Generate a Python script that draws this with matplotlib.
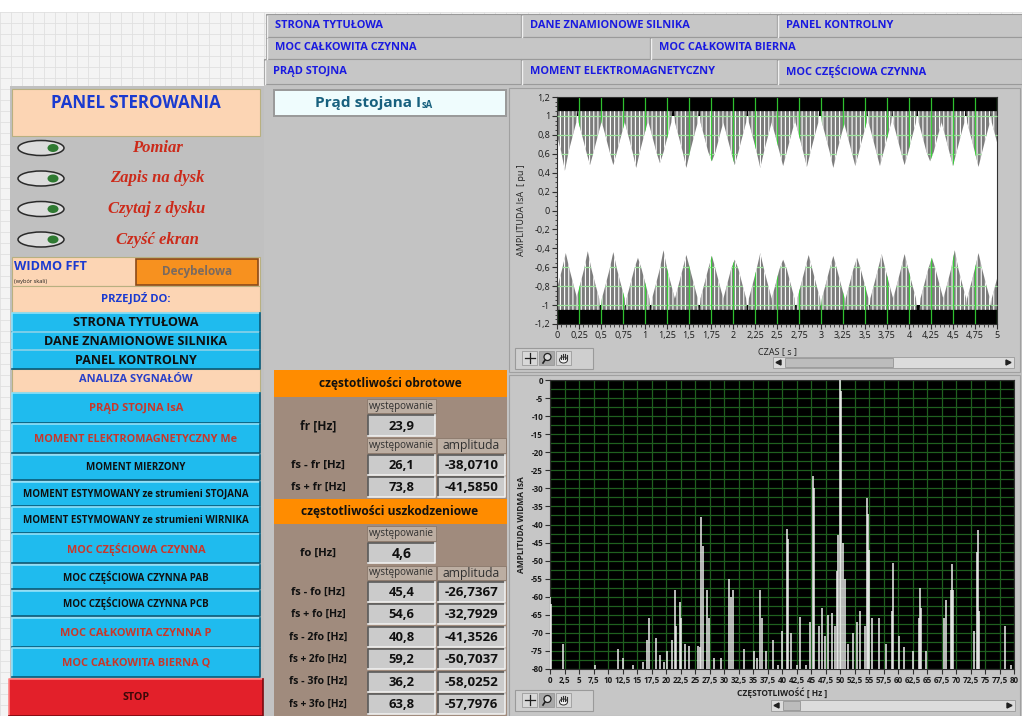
import matplotlib
matplotlib.use('Agg')
import matplotlib.pyplot as plt
from matplotlib.patches import Rectangle, Ellipse, Polygon, PathPatch
from matplotlib.path import Path
from matplotlib.collections import LineCollection
from matplotlib.ticker import MultipleLocator, FuncFormatter

plt.rcParams['font.family'] = ['Open Sans', 'DejaVu Sans']
plt.rcParams['hatch.linewidth'] = 0.8

# ---- dane ----
tabs_row1 = ['STRONA TYTUŁOWA', 'DANE ZNAMIONOWE SILNIKA', 'PANEL KONTROLNY']
tabs_row2 = ['MOC CAŁKOWITA CZYNNA', 'MOC CAŁKOWITA BIERNA']
tabs_row3 = ['PRĄD STOJNA', 'MOMENT ELEKTROMAGNETYCZNY', 'MOC CZĘŚCIOWA CZYNNA']

toggles = ['Pomiar', 'Zapis na dysk', 'Czytaj z dysku', 'Czyść ekran']
nav_buttons = ['STRONA TYTUŁOWA', 'DANE ZNAMIONOWE SILNIKA', 'PANEL KONTROLNY']
signal_buttons = ['PRĄD STOJNA IsA', 'MOMENT ELEKTROMAGNETYCZNY Me', 'MOMENT MIERZONY',
                  'MOMENT ESTYMOWANY ze strumieni STOJANA', 'MOMENT ESTYMOWANY ze strumieni WIRNIKA',
                  'MOC CZĘŚCIOWA CZYNNA', 'MOC CZĘŚCIOWA CZYNNA PAB', 'MOC CZĘŚCIOWA CZYNNA PCB',
                  'MOC CAŁKOWITA CZYNNA P', 'MOC CAŁKOWITA BIERNA Q']
signal_main = [True, True, False, False, False, True, False, False, True, True]

fr = 23.9
rot_labels = ['fs - fr [Hz]', 'fs + fr [Hz]']
rot_freq = [26.1, 73.8]
rot_amp = [-38.0710, -41.5850]
fo = 4.6
fault_labels = ['fs - fo [Hz]', 'fs + fo [Hz]', 'fs - 2fo [Hz]', 'fs + 2fo [Hz]', 'fs - 3fo [Hz]', 'fs + 3fo [Hz]']
fault_freq = [45.4, 54.6, 40.8, 59.2, 36.2, 63.8]
fault_amp = [-26.7367, -32.7929, -41.3526, -50.7037, -58.0252, -57.7976]

# prad stojana - obwiednia (dolki gornej i wierzcholki dolnej modulacji)
env_hi, env_lo = 1.0, -1.0
top_dip_t = [0.09, 0.375, 0.64, 0.9, 1.17, 1.47, 1.76, 2.02, 2.31, 2.57, 2.84, 3.14, 3.39, 3.67, 3.95, 4.24, 4.5, 4.79, 5.07]
top_dip_v = [0.42, 0.48, 0.48, 0.45, 0.50, 0.45, 0.52, 0.48, 0.45, 0.47, 0.46, 0.45, 0.47, 0.47, 0.48, 0.52, 0.47, 0.46, 0.47]
bot_tip_t = [0.1, 0.35, 0.64, 0.92, 1.21, 1.47, 1.76, 2.02, 2.31, 2.57, 2.86, 3.14, 3.41, 3.69, 3.95, 4.26, 4.52, 4.79, 5.07]
bot_tip_v = [-0.45, -0.43, -0.44, -0.50, -0.42, -0.47, -0.48, -0.52, -0.45, -0.52, -0.47, -0.48, -0.50, -0.46, -0.46, -0.50, -0.42, -0.45, -0.47]

# widmo FFT [Hz], [dB]
spec_f = [0.0, 0.2, 2.3, 7.7, 11.7, 12.6, 14.3, 16.0, 16.8, 17.0, 18.2, 18.9, 19.6, 20.2, 21.0, 21.5, 21.8,
          22.4, 22.6, 23.2, 24.0, 25.5, 25.8, 26.1, 26.4, 27.0, 27.4, 28.2, 29.5, 30.8, 31.2, 31.5,
          33.4, 35.2, 35.7, 36.2, 36.5, 37.2, 38.5, 39.3, 40.0, 40.8, 41.0, 41.6, 42.5, 43.1, 44.2, 44.8,
          45.4, 45.6, 46.3, 46.9, 47.4, 48.0, 48.6, 49.1, 49.4, 49.7, 50.0, 50.2, 50.6, 50.9, 51.4,
          52.2, 52.9, 53.4, 54.3, 54.6, 54.8, 55.0, 55.6, 56.8, 58.0, 59.0, 59.2, 60.1, 61.0, 62.6,
          63.6, 63.8, 64.0, 64.8, 68.0, 68.2, 69.1, 69.3, 69.5, 73.1, 73.6, 73.8, 74.0, 78.5, 79.5]
spec_db = [-60, -62, -73, -79, -74.5, -77, -79, -78, -72, -66, -71.5, -76, -78, -75, -72, -58, -68,
           -61.5, -66, -73, -73.5, -73.5, -74, -38, -46, -58, -66, -77, -77, -55, -60, -58,
           -74.5, -75, -77, -58, -66, -75, -72, -79, -69.5, -41.3, -44, -70, -79, -65.5, -79, -67,
           -26.7, -30, -68, -63, -71, -65, -64.5, -68, -53, -43, 0, -3, -45, -55, -73,
           -70, -67, -64, -68, -32.8, -37, -47, -66, -66, -73, -64, -50.7, -71, -74, -75,
           -66, -57.5, -63, -75, -66, -61, -58, -51, -58, -69.5, -47.5, -41.6, -64, -68, -79]

fig = plt.figure(figsize=(10.22, 7.16), dpi=100)
bg = fig.add_axes([0, 0, 1, 1])
bg.set_xlim(0, 1022)
bg.set_ylim(716, 0)
bg.axis('off')
R = fig.canvas.get_renderer()


def box(x0, y0, x1, y1, fc, ec='none', lw=0.8, z=1, **kw):
    p = Rectangle((x0, y0), x1 - x0, y1 - y0, facecolor=fc, edgecolor=ec, linewidth=lw, zorder=z, **kw)
    bg.add_patch(p)
    return p


def label(x, y, s, w=None, ha='center', size=8, **kw):
    t = bg.text(x, y, s, ha=ha, va='center', fontsize=size, zorder=6, **kw)
    if w:
        ext = t.get_window_extent(renderer=R)
        t.set_fontsize(size * w / ext.width)
    return t


def bevel(x0, y0, x1, y1, fc, light, dark):
    box(x0, y0, x1, y1, fc, z=2)
    bg.plot([x0, x0, x1], [y1, y0, y0], color=light, lw=1.2, zorder=3)
    bg.plot([x0, x1, x1], [y1, y1, y0], color=dark, lw=1.2, zorder=3)


def comma(v, dec):
    return f'{v:.{dec}f}'.replace('.', ',')


# ---- tlo ----
box(0, 0, 1022, 716, '#f4f4f4', z=0)
for gx in range(0, 1022, 11):
    bg.plot([gx, gx], [12, 716], color='#e0e0e0', lw=0.6, zorder=0.1)
for gy in range(12, 716, 11):
    bg.plot([0, 1022], [gy, gy], color='#e0e0e0', lw=0.6, zorder=0.1)
box(0, 0, 1022, 12, 'white', z=0.2)
box(264, 84, 1022, 716, '#c3c3c3', z=0.5)
box(10, 86, 264, 716, '#c0c0c0', z=0.5)

# ---- zakladki ----
tab_sz = None
rows = [(14, 37, [(266, 521), (521, 777), (777, 1022)], tabs_row1),
        (37, 59, [(266, 650), (650, 1022)], tabs_row2),
        (59, 84, [(264, 521), (521, 777), (777, 1022)], tabs_row3)]
for y0, y1, spans, names in rows:
    for (x0, x1), name in zip(spans, names):
        box(x0, y0, x1, y1, '#c6c6c6', ec='#9a9a9a', lw=0.8, z=1)
        bg.plot([x0 + 1, x0 + 1], [y0 + 2, y1], color='#f0f0f0', lw=1, zorder=1.5)
        t = label(x0 + 9, (y0 + y1) / 2, name, w=108 if tab_sz is None else None,
                  ha='left', color='#1a1ae0', fontweight='bold', size=tab_sz or 8)
        if tab_sz is None:
            tab_sz = t.get_fontsize()

# ---- panel sterowania ----
box(12, 89, 260, 136, '#fcd5b4', ec='#b8b080', lw=0.8, z=1)
label(136, 103, 'PANEL STEROWANIA', w=170, color='#1a3ad0', fontweight='bold')
serif = ['Liberation Serif', 'DejaVu Serif']
probe = label(0, 0, toggles[1], w=94, size=11, fontweight='bold', fontstyle='italic', family=serif)
tg_sz = probe.get_fontsize()
probe.remove()
for i, name in enumerate(toggles):
    y = 148 + i * 30.5
    bg.add_patch(Ellipse((41, y), 46, 15, facecolor='#dcdcdc', edgecolor='#2a2a2a', lw=1.1, zorder=3))
    bg.add_patch(Ellipse((53, y), 11, 8, facecolor='#2f7a32', edgecolor='none', zorder=4))
    label(157, y, name, size=tg_sz, color='#cc2a1a', fontweight='bold', fontstyle='italic', family=serif)

box(12, 257, 260, 286, '#fcd5b4', ec='#b8b080', lw=0.8, z=1)
label(14, 266, 'WIDMO FFT', w=73, ha='left', color='#1a3ad0', fontweight='bold')
label(14, 281, '(wybór skali)', w=33, ha='left', color='#202020')
box(136, 259, 258, 285, '#f7911f', ec='#8a4a18', lw=1.2, z=2)
label(197, 272, 'Decybelowa', w=71, color='#7a6a60', fontweight='bold')

box(12, 286, 260, 312, '#fcd5b4', ec='#b8b080', lw=0.8, z=1)
label(136, 299, 'PRZEJDŹ DO:', w=70, color='#1a3ad0', fontweight='bold')

nav_y = [(313, 332), (332, 350), (350, 369)]
nav_w = [125, 184, 122]
for (y0, y1), name, w in zip(nav_y, nav_buttons, nav_w):
    bevel(12, y0, 260, y1, '#1fbbee', '#8fe2fb', '#0a5a78')
    label(136, (y0 + y1) / 2 + 0.5, name, w=w, color='#101010', fontweight='bold')

box(12, 369, 260, 392, '#fcd5b4', ec='#b8b080', lw=0.8, z=1)
label(136, 379, 'ANALIZA SYGNAŁÓW', w=113, color='#2a40c8', fontweight='bold')

sig_y = [(393, 423), (424, 453), (455, 480), (482, 506), (507, 533), (534, 563),
         (565, 589), (591, 616), (618, 647), (648, 677)]
sig_w = [95, 202, 99, 226, 226, 139, 146, 146, 152, 148]
for (y0, y1), name, main, w in zip(sig_y, signal_buttons, signal_main, sig_w):
    bevel(12, y0, 260, y1, '#1fbbee', '#8fe2fb', '#0a5a78')
    label(136, (y0 + y1) / 2 + 0.5, name, w=w, color='#c8372a' if main else '#101010', fontweight='bold')

bevel(9, 679, 263, 716, '#e3202a', '#ff8080', '#7a0a10')
label(136, 698, 'STOP', w=27, color='#3a0808', fontweight='bold')

# ---- tytul i tabela ----
box(273, 89, 507, 117, '#9a9a9a', z=1)
box(275, 91, 505, 115, '#effcfd', z=1.5)
t1 = label(368, 103, 'Prąd stojana I', w=106, color='#17607e', fontweight='bold')
ext = t1.get_window_extent(renderer=R)
label(ext.x1 + 1, 105, 'sA', ha='left', size=t1.get_fontsize() * 0.62, color='#17607e', fontweight='bold')

TX0, TX1 = 274, 507
C2, C3 = (367, 436), (437, 506)
LX = 318
box(TX0, 370, TX1, 716, '#a08b7d', z=1)
box(TX0, 370, TX1, 397, '#ff8c00', z=1.5)
label(390, 383, 'częstotliwości obrotowe', w=143, color='#101010', fontweight='bold')


def hdr(y0, y1, cols):
    for (x0, x1), s, w in cols:
        box(x0, y0, x1, y1, '#bcaea2', ec='#8a786a', lw=0.6, z=2)
        label((x0 + x1) / 2, (y0 + y1) / 2, s, w=w, color='#303030')


def cell(x0, x1, y0, y1, s, w):
    bevel(x0 + 1, y0, x1 - 1, y1, '#cbcbcb', '#5a5a5a', '#f0f0f0')
    label((x0 + x1) / 2, (y0 + y1) / 2 + 0.5, s, w=w, color='#101010', fontweight='bold')


def row_label(y, s, w):
    label(LX, y, s, w=w, color='#101010', fontweight='bold')


hdr(399, 413, [(C2, 'występowanie', 65)])
row_label(426, 'fr [Hz]', 36)
cell(*C2, 415, 436, comma(fr, 1), 26)
hdr(438, 453, [(C2, 'występowanie', 65), (C3, 'amplituda', 58)])
for i, (lab, f, a) in enumerate(zip(rot_labels, rot_freq, rot_amp)):
    y0 = 455 + i * 22
    row_label(y0 + 10, lab, 54)
    cell(*C2, y0, y0 + 20, comma(f, 1), 26)
    cell(*C3, y0, y0 + 20, comma(a, 4), 54)

box(TX0, 499, TX1, 524, '#ff8c00', z=1.5)
label(390, 511, 'częstotliwości uszkodzeniowe', w=177, color='#101010', fontweight='bold')
hdr(526, 541, [(C2, 'występowanie', 65)])
row_label(553, 'fo [Hz]', 36)
cell(*C2, 543, 563, comma(fo, 1), 20)
hdr(566, 580, [(C2, 'występowanie', 65), (C3, 'amplituda', 58)])
for i, (lab, f, a) in enumerate(zip(fault_labels, fault_freq, fault_amp)):
    y0 = 582 + i * 22.4
    row_label(y0 + 10, lab, 58 if '2' in lab or '3' in lab else 54)
    cell(*C2, y0, y0 + 20, comma(f, 1), 26)
    cell(*C3, y0, y0 + 20, comma(a, 4), 54)

# ---- ramki wykresow ----
box(509, 88, 1020, 372, '#c6c6c6', ec='#a0a0a0', lw=0.8, z=1)
box(509, 375, 1020, 716, '#c6c6c6', ec='#a0a0a0', lw=0.8, z=1)


def toolbar(x0, y0):
    box(x0, y0, x0 + 78, y0 + 21, '#cfcfcf', ec='#9a9a9a', lw=0.8, z=2)
    for k in range(3):
        bx = x0 + 7 + k * 17
        box(bx, y0 + 3, bx + 15, y0 + 17, '#d8d8d8' if k != 1 else '#a8a8a8', ec='#909090', lw=0.5, z=3)
    cx, cy = x0 + 14.5, y0 + 10
    bg.plot([cx - 5, cx + 5], [cy, cy], color='#202020', lw=0.9, zorder=4)
    bg.plot([cx, cx], [cy - 5, cy + 5], color='#202020', lw=0.9, zorder=4)
    bg.add_patch(Ellipse((x0 + 32.5, y0 + 9), 7, 7, facecolor='#d8d8d8', edgecolor='#202020', lw=0.9, zorder=4))
    bg.plot([x0 + 30, x0 + 28], [y0 + 12, y0 + 15], color='#202020', lw=1.2, zorder=4)
    # dlon (ikona przesuwania)
    hx = x0 + 48.5
    bg.add_patch(Ellipse((hx, y0 + 12), 8, 6, facecolor='#f2f2f2', edgecolor='#303030', lw=0.7, zorder=4))
    for k in range(4):
        fx = hx - 3 + k * 2
        bg.plot([fx, fx], [y0 + 11, y0 + 5.5 + abs(k - 1.5)], color='#303030', lw=0.8, zorder=5)


def scrollbar(x0, x1, y0, y1, t0, t1):
    box(x0, y0, x1, y1, '#dcdcdc', ec='#9a9a9a', lw=0.6, z=2)
    box(t0, y0 + 1, t1, y1 - 1, '#bcbcbc', ec='#8a8a8a', lw=0.5, z=3)
    bg.add_patch(Polygon([(x0 + 3, (y0 + y1) / 2), (x0 + 8, y0 + 3), (x0 + 8, y1 - 3)], color='#202020', zorder=4))
    bg.add_patch(Polygon([(x1 - 3, (y0 + y1) / 2), (x1 - 8, y0 + 3), (x1 - 8, y1 - 3)], color='#202020', zorder=4))


toolbar(515, 348)
scrollbar(773, 1014, 357, 368, 785, 893)
toolbar(515, 690)
scrollbar(771, 1015, 700, 711, 783, 800)

label(522, 210, 'AMPLITUDA IsA  [ pu ]', size=6.5, rotation=90, color='#202020')
label(777, 352, 'CZAS [ s ]', size=6.5, color='#202020')
label(521, 525, 'AMPLITUDA WIDMA IsA', size=6, rotation=90, color='#202020', fontweight='bold')
label(782, 693, 'CZĘSTOTLIWOŚĆ [ Hz ]', size=6, color='#202020', fontweight='bold')


def fmt(v, pos):
    s = f'{v:.2f}'.rstrip('0').rstrip('.')
    if s in ('-0', ''):
        s = '0'
    return s.replace('.', ',')


# ---- wykres pradu ----
ax1 = fig.add_axes([557 / 1022, 1 - 324 / 716, 440 / 1022, 227 / 716])
ax1.set_facecolor('black')
ax1.set_xlim(0, 5)
ax1.set_ylim(-1.2, 1.2)
ax1.set_axisbelow(True)
ax1.xaxis.set_major_locator(MultipleLocator(0.25))
ax1.xaxis.set_minor_locator(MultipleLocator(0.05))
ax1.yaxis.set_major_locator(MultipleLocator(0.2))
ax1.yaxis.set_minor_locator(MultipleLocator(0.05))
ax1.xaxis.set_major_formatter(FuncFormatter(fmt))
ax1.yaxis.set_major_formatter(FuncFormatter(fmt))
ax1.grid(True, which='major', axis='x', color='#2fbf2f', lw=0.9)
ax1.fill_between([0, 5], env_lo, env_hi, color='white', lw=0, zorder=1)

hw, cap = 0.139, 1.05
# ksztalt "V" modulacji: szerokosc (czesc hw) na kolejnych poziomach
shape = [(1.0, cap), (0.93, 0.93), (0.66, 0.8), (0.3, 0.62)]
verts, codes = [], []


def vee(t, d, sign):
    left = [(t - f * hw, sign * lv) for f, lv in shape]
    right = [(t + f * hw, sign * lv) for f, lv in shape[::-1]]
    pts = left + [(t, d)] + right
    ax1.add_patch(Polygon(pts, closed=True, facecolor='#7c7c7c', edgecolor='white', lw=0,
                          hatch='||||', zorder=2))
    verts.extend(pts + [pts[0]])
    codes.extend([Path.MOVETO] + [Path.LINETO] * (len(pts) - 1) + [Path.CLOSEPOLY])


for t, d in zip(top_dip_t, top_dip_v):
    vee(t, d, 1)
for t, d in zip(bot_tip_t, bot_tip_v):
    vee(t, d, -1)
clip = PathPatch(Path(verts, codes), transform=ax1.transData, visible=False)
ax1.add_patch(clip)
ylines = [[(0, v), (5, v)] for v in [-1.0, -0.8, -0.6, -0.4, 0.4, 0.6, 0.8, 1.0]]
xlines = [[(v * 0.25, -1.2), (v * 0.25, 1.2)] for v in range(1, 20)]
lc = LineCollection(ylines, colors='#9fe49f', lw=0.9, zorder=3)
lc.set_clip_path(clip)
ax1.add_collection(lc)
lc2 = LineCollection(xlines, colors='#3ad03a', lw=0.9, zorder=3)
lc2.set_clip_path(clip)
ax1.add_collection(lc2)

# ---- widmo ----
ax2 = fig.add_axes([550 / 1022, 1 - 669 / 716, 464 / 1022, 289 / 716])
ax2.set_facecolor('black')
ax2.set_xlim(0, 80)
ax2.set_ylim(-80, 0)
ax2.set_axisbelow(True)
ax2.xaxis.set_major_locator(MultipleLocator(2.5))
ax2.yaxis.set_major_locator(MultipleLocator(5))
ax2.yaxis.set_minor_locator(MultipleLocator(2.5))
ax2.xaxis.set_major_formatter(FuncFormatter(fmt))
ax2.yaxis.set_major_formatter(FuncFormatter(fmt))
ax2.grid(True, which='both', color='#1f5f1f', lw=0.9)
ax2.vlines(spec_f, -80, spec_db, colors='#efefef', lw=1.1, zorder=3)

for ax, sz in ((ax1, 6.5), (ax2, 5.8)):
    for sp in ax.spines.values():
        sp.set_color('#303030')
        sp.set_linewidth(0.8)
    ax.tick_params(which='major', direction='out', length=3.5, width=0.8, color='#303030',
                   labelsize=sz, labelcolor='#1a1a1a', pad=1.5)
    ax.tick_params(which='minor', direction='out', length=1.8, width=0.6, color='#303030')
ax2.tick_params(axis='y', which='minor', length=0)
for lab in ax2.get_xticklabels() + ax2.get_yticklabels():
    lab.set_fontweight('bold')

fig.savefig('out.png', dpi=100)
